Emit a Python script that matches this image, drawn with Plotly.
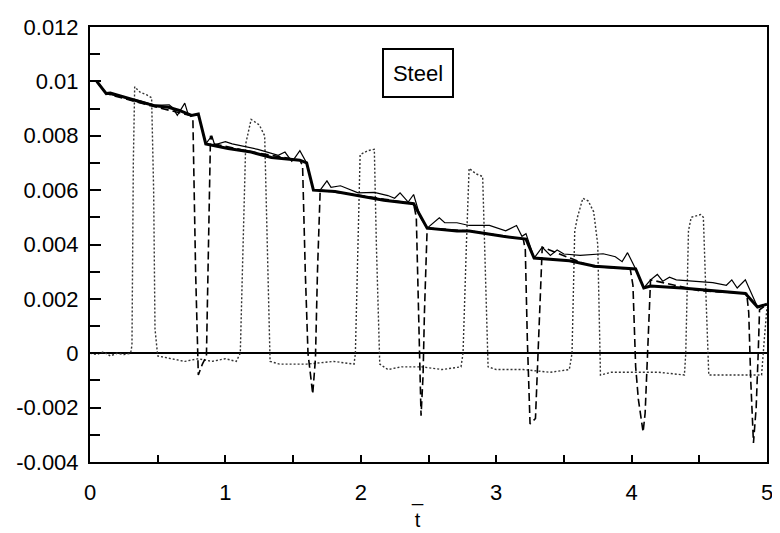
import plotly.graph_objects as go

# ---------------- data ----------------
thick_t = [0.05, 0.12, 0.15, 0.26, 0.37, 0.48, 0.58, 0.66, 0.75, 0.80, 0.855,
           1.02, 1.19, 1.34, 1.55, 1.60, 1.65, 1.81, 1.98, 2.17, 2.39, 2.49,
           2.71, 2.80, 3.05, 3.22, 3.28, 3.54, 3.73, 4.03, 4.09, 4.14, 4.37,
           4.61, 4.84, 4.93, 5.0]
thick_v = [0.0100, 0.00955, 0.00957, 0.0094, 0.00925, 0.0091, 0.00905, 0.00893,
           0.00875, 0.0088, 0.0077, 0.00753, 0.0074, 0.0072, 0.0071, 0.0070,
           0.0060, 0.00595, 0.0058, 0.00563, 0.0055, 0.0046, 0.0045, 0.0045,
           0.0043, 0.0042, 0.0035, 0.0034, 0.0032, 0.0031, 0.0024, 0.00247,
           0.0024, 0.0023, 0.0022, 0.0017, 0.0018]

thin_t = [0.05, 0.12, 0.26, 0.37, 0.48, 0.585, 0.61, 0.645, 0.70, 0.725, 0.75,
          0.80, 0.855, 0.90, 0.92, 1.0, 1.05, 1.15, 1.24, 1.39, 1.44, 1.49,
          1.51, 1.55, 1.60, 1.65, 1.70, 1.75, 1.78, 1.85, 1.98, 2.10, 2.20,
          2.25, 2.29, 2.35, 2.39, 2.44, 2.49, 2.58, 2.62, 2.71, 2.80, 2.95,
          3.07, 3.15, 3.19, 3.22, 3.28, 3.34, 3.40, 3.45, 3.50, 3.62, 3.79,
          3.88, 3.93, 3.97, 4.03, 4.09, 4.14, 4.19, 4.23, 4.28, 4.33, 4.45,
          4.60, 4.70, 4.74, 4.78, 4.84, 4.93, 5.0]
thin_v = [0.0100, 0.00955, 0.0094, 0.00928, 0.00912, 0.00914, 0.00903, 0.00875,
          0.0092, 0.00878, 0.00875, 0.0088, 0.0077, 0.0080, 0.00767, 0.00778,
          0.0077, 0.0076, 0.0075, 0.00728, 0.0074, 0.00706, 0.00717, 0.00745,
          0.0070, 0.0060, 0.0060, 0.00634, 0.0061, 0.00616, 0.0059, 0.00592,
          0.0058, 0.0057, 0.0059, 0.00556, 0.00584, 0.0050, 0.0046, 0.00498,
          0.0048, 0.0048, 0.0047, 0.0047, 0.0045, 0.0047, 0.0043, 0.0044,
          0.0035, 0.0039, 0.0036, 0.0038, 0.00365, 0.0036, 0.00366, 0.00355,
          0.00337, 0.0037, 0.0031, 0.0024, 0.0027, 0.0029, 0.00265, 0.0028,
          0.0027, 0.00265, 0.0026, 0.0025, 0.0027, 0.0024, 0.0027, 0.0017,
          0.0018]

dash_t = [0.05, 0.12, 0.45, 0.74, 0.76, 0.78, 0.80, 0.83, 0.86, 0.88, 0.89,
          0.92, 1.20, 1.55, 1.57, 1.59, 1.61, 1.645, 1.665, 1.68, 1.70,
          2.00, 2.39, 2.41, 2.43, 2.445, 2.46, 2.47, 2.49,
          2.80, 3.20, 3.215, 3.23, 3.25, 3.29, 3.31, 3.34,
          3.70, 3.99, 4.01, 4.03, 4.05, 4.085, 4.10, 4.12, 4.14,
          4.50, 4.85, 4.865, 4.88, 4.90, 4.92, 4.935, 4.945, 5.0]
dash_v = [0.0100, 0.00955, 0.0091, 0.00875, 0.0086, 0.0030, -0.0008, -0.0004,
          -0.0001, 0.0050, 0.0080,
          0.0077, 0.0074, 0.0071, 0.0069, 0.0030, 0.0000, -0.0015, -0.0002,
          0.0030, 0.0060,
          0.0058, 0.0055, 0.0050, 0.0008, -0.0023, -0.0008, 0.0015, 0.0046,
          0.0045, 0.0042, 0.0038, 0.0005, -0.0026, -0.0024, 0.0000, 0.0039,
          0.0032, 0.0031, 0.0025, -0.0005, -0.0017, -0.0029, -0.0022, 0.0000,
          0.0027,
          0.0023, 0.0022, 0.0015, -0.0010, -0.0033, -0.0020, 0.0000, 0.0016,
          0.0018]

dot_t = [0.0, 0.05, 0.10, 0.15, 0.20, 0.25, 0.30, 0.31, 0.32, 0.33, 0.37, 0.42,
         0.455, 0.47, 0.48, 0.50, 0.60, 0.70, 0.80, 0.90, 1.00, 1.08, 1.11,
         1.13, 1.15, 1.19, 1.25, 1.29, 1.31, 1.33, 1.40, 1.60, 1.80, 1.95,
         1.96, 1.98, 1.995, 2.05, 2.10, 2.115, 2.14, 2.20, 2.30, 2.45, 2.60,
         2.74, 2.755, 2.78, 2.80, 2.85, 2.90, 2.92, 2.94, 3.00, 3.20, 3.40,
         3.54, 3.56, 3.58, 3.60, 3.64, 3.68, 3.72, 3.75, 3.77, 3.85, 4.00,
         4.20, 4.39, 4.40, 4.42, 4.44, 4.51, 4.53, 4.55, 4.57, 4.70, 4.85,
         4.96, 4.98, 5.0]
dot_v = [0.0, -0.00005, 0.00005, -0.0001, 0.0, -0.00005, 0.0, 0.0003, 0.0070,
         0.0098, 0.0096, 0.0095, 0.0094, 0.0060, 0.0009, -0.0001, -0.0002,
         -0.0003, -0.0002, -0.0003, -0.0002, -0.0003, 0.0, 0.0040, 0.0077,
         0.0086, 0.0084, 0.0080, 0.0040, -0.0003, -0.0004, -0.0004, -0.0003,
         -0.0004, 0.0, 0.0040, 0.0073, 0.00745, 0.0075, 0.0040, -0.0004,
         -0.0006, -0.0005, -0.0005, -0.0006, -0.0005, 0.0, 0.0040, 0.0068,
         0.0066, 0.0065, 0.0030, -0.0005, -0.0006, -0.0006, -0.0007, -0.0006,
         0.0, 0.0045, 0.0050, 0.0057, 0.0056, 0.0052, 0.0040, -0.0008,
         -0.0007, -0.0007, -0.0007, -0.0008, 0.0, 0.0045, 0.0050, 0.0051,
         0.0050, 0.0020, -0.0008, -0.0008, -0.0008, -0.0008, 0.0005, 0.0017]

y_tickvals = [-0.004, -0.002, 0, 0.002, 0.004, 0.006, 0.008, 0.01, 0.012]
y_ticktext = ["-0.004", "-0.002", "0", "0.002", "0.004", "0.006", "0.008",
              "0.01", "0.012"]
x_tickvals = [0, 1, 2, 3, 4, 5]
x_ticktext = ["0", "1", "2", "3", "4", "5"]
label_text = "Steel"

# ---------------- figure ----------------
FONT = "Liberation Sans, Arial, sans-serif"
fig = go.Figure()
fig.add_trace(go.Scatter(x=dot_t, y=dot_v, mode="lines",
                         line=dict(color="#333333", width=1.4, dash="2px,2px")))
fig.add_trace(go.Scatter(x=dash_t, y=dash_v, mode="lines",
                         line=dict(color="black", width=1.6, dash="8px,4px")))
fig.add_trace(go.Scatter(x=thin_t, y=thin_v, mode="lines",
                         line=dict(color="black", width=1.2)))
fig.add_trace(go.Scatter(x=thick_t, y=thick_v, mode="lines",
                         line=dict(color="black", width=3)))

fig.add_annotation(x=2.42, y=0.01030, xref="x", yref="y", text=label_text,
                   showarrow=False, font=dict(family=FONT, size=22, color="black"),
                   bordercolor="black", borderwidth=2, borderpad=2,
                   width=64, height=42, bgcolor="white")

fig.add_annotation(x=2.42, y=0, xref="x", yref="paper", yanchor="top",
                   yshift=-19, text="_<br>t", showarrow=False,
                   font=dict(family=FONT, size=20, color="black"))

# the page body has an 8 px margin, so the figure is sized to fit the window
fig.update_layout(
    width=772, height=525,
    margin=dict(l=82, r=7, t=10, b=71),
    paper_bgcolor="white", plot_bgcolor="white",
    showlegend=False,
    font=dict(family=FONT, size=22, color="black"),
)
fig.update_xaxes(range=[0, 5], showgrid=False, zeroline=False,
                 showline=True, linewidth=2, linecolor="black", mirror=True,
                 ticks="inside", ticklen=7, tickwidth=1.5, tickcolor="black",
                 tickvals=x_tickvals, ticktext=x_ticktext,
                 ticklabelstandoff=10, ticklabeloverflow="allow",
                 minor=dict(ticks="inside", dtick=0.5, ticklen=7,
                            tickwidth=1.5, tickcolor="black"))
fig.update_yaxes(range=[-0.004, 0.012], showgrid=False,
                 zeroline=True, zerolinecolor="black", zerolinewidth=2,
                 showline=True, linewidth=2, linecolor="black", mirror=True,
                 ticks="inside", ticklen=11, tickwidth=1.5, tickcolor="black",
                 tickvals=y_tickvals, ticktext=y_ticktext,
                 ticklabelstandoff=5, ticklabeloverflow="allow",
                 minor=dict(ticks="inside", dtick=0.001, ticklen=10,
                            tickwidth=1.5, tickcolor="black"))

fig.write_html("out.html")
